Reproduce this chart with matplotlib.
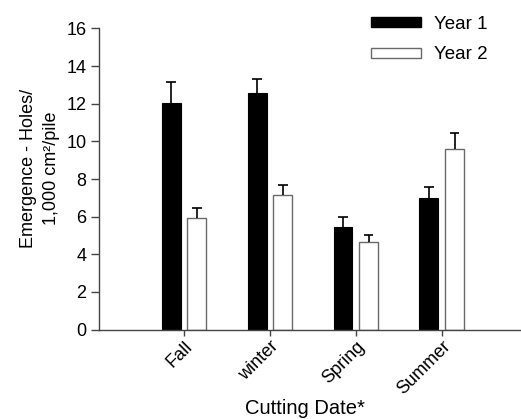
import matplotlib
matplotlib.use("Agg")
import matplotlib.pyplot as plt
import numpy as np
from matplotlib.patches import Patch

plt.rcParams['font.family'] = ['Liberation Sans', 'DejaVu Sans']

categories = ["Fall", "winter", "Spring", "Summer"]
year1 = [12.04, 12.57, 5.46, 6.98]
year1_err = [1.13, 0.74, 0.53, 0.62]
year2 = [5.95, 7.16, 4.64, 9.62]
year2_err = [0.53, 0.53, 0.41, 0.80]
yticks = [0, 2, 4, 6, 8, 10, 12, 14, 16]

fig = plt.figure(figsize=(5.21, 4.19), dpi=100)
ax = fig.add_axes([0.19, 0.2134, 0.808, 0.7186])

x = np.arange(len(categories))
off = 0.15
w = 0.22
ax.bar(x - off, year1, w, color='black', edgecolor='black', linewidth=0.8, label='Year 1', zorder=2)
ax.bar(x + off, year2, w, color='white', edgecolor='#6a6a6a', linewidth=1.0, label='Year 2', zorder=2)

for xs, vals, errs in [(x - off, year1, year1_err), (x + off, year2, year2_err)]:
    vals = np.array(vals); errs = np.array(errs)
    ax.vlines(xs, vals, vals + errs, color='black', linewidth=1.2, zorder=3)
    ax.hlines(vals + errs, xs - 0.055, xs + 0.055, color='black', linewidth=1.2, zorder=3)

ax.set_xlim(-0.99, 3.91)
ax.set_ylim(0, 16)
ax.set_yticks(yticks)
ax.set_xticks(x)
ax.set_xticklabels(categories, rotation=45, ha='right', rotation_mode='anchor', fontsize=13)
ax.tick_params(axis='y', labelsize=13, length=6, width=1, color='#444444', pad=3)
ax.tick_params(axis='x', length=4, width=1, color='#444444', pad=2)

for s in ['top', 'right']:
    ax.spines[s].set_visible(False)
for s in ['left', 'bottom']:
    ax.spines[s].set_color('#444444')
    ax.spines[s].set_linewidth(1.0)

fig.text(40 / 521, 1 - 168 / 419, "Emergence - Holes/\n1,000 cm²/pile", fontsize=13,
         rotation=90, ha='center', va='center', multialignment='center', linespacing=1.45)
fig.text(305 / 521, 1 - 414 / 419, "Cutting Date*", fontsize=14.5, ha='center', va='baseline')

handles = [Patch(facecolor='black', edgecolor='black'),
           Patch(facecolor='white', edgecolor='#6a6a6a')]
fig.legend(handles, ['Year 1', 'Year 2'], loc='upper left', bbox_to_anchor=(0.712, 0.962),
           frameon=False, fontsize=13.5, handlelength=2.67, handleheight=0.43,
           handletextpad=0.7, labelspacing=0.72, borderpad=0, borderaxespad=0)

fig.savefig("out.png", dpi=100)
